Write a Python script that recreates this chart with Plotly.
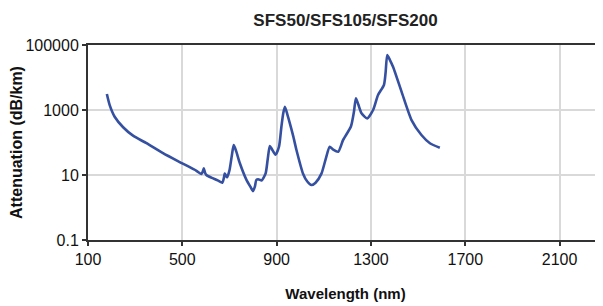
import plotly.graph_objects as go

wavelength_nm = [180, 192, 213, 249, 291, 348, 418, 489, 560, 581, 587, 591, 596, 602, 623, 650, 670, 676, 680, 685, 690,
                 700, 710, 718, 728, 744, 772, 790, 800, 808, 814, 825, 836, 853, 862, 871, 880, 895, 910,
                 920, 928, 935, 945, 956, 970, 984, 1012, 1030, 1048, 1065, 1090, 1110, 1125, 1140, 1161, 1182, 1215, 1228,
                 1236, 1246, 1260, 1284, 1309, 1330, 1355, 1362, 1369, 1380, 1394, 1430, 1472, 1514, 1550, 1592]
attenuation_db_km = [3100, 1410, 620, 295, 162, 95, 47, 25, 13.5, 10.7, 13, 16, 12, 10, 8.3, 6.8, 5.8, 8, 11, 9.5, 8.5,
                     14, 40, 83, 55, 23, 7.1, 4.2, 3.2, 4.5, 7.1, 7.3, 6.8, 11, 30, 78, 62, 42, 74,
                     300, 800, 1260, 750, 390, 160, 59, 11, 6.3, 4.9, 5.8, 11, 35, 74, 60, 52, 120, 310, 900,
                     2300, 1500, 790, 550, 1000, 2900, 5900, 14000, 49000, 35000, 21000, 3600, 490, 170, 95, 69]

x_tick_vals = [100, 500, 900, 1300, 1700, 2100]
y_tick_vals = [0.1, 10, 1000, 100000]
y_tick_text = ["0.1", "10", "1000", "100000"]

font_family = "Liberation Sans, Arial, sans-serif"

fig = go.Figure()
fig.add_trace(go.Scatter(
    x=wavelength_nm, y=attenuation_db_km, mode="lines",
    line=dict(color="#3550a0", width=2.6, shape="spline", smoothing=0.6),
    hoverinfo="x+y", showlegend=False,
))

# the page body adds an 8px offset, so the figure is 595x298 with margins shifted accordingly
fig.update_layout(
    width=595, height=298,
    margin=dict(l=80, r=0, t=37, b=66, autoexpand=False),
    paper_bgcolor="white", plot_bgcolor="white",
    title=dict(text="<b>SFS50/SFS105/SFS200</b>", xref="paper", x=0.5, xanchor="center",
               yref="container", y=0.96, yanchor="middle",
               font=dict(family=font_family, size=17, color="#222")),
    font=dict(family=font_family, color="#111"),
)

fig.update_xaxes(
    range=[100, 2284], tickvals=x_tick_vals, ticktext=[str(v) for v in x_tick_vals],
    showgrid=True, gridcolor="#d9d9d9", gridwidth=1.5,
    showline=True, linecolor="#333", linewidth=2, mirror=True,
    ticks="outside", ticklen=4, tickcolor="#333", tickwidth=1.5,
    tickfont=dict(size=16, color="#111"),
    title=dict(text="<b>Wavelength (nm)</b>", font=dict(size=15, color="#111"), standoff=21),
    zeroline=False, automargin=False,
)
fig.update_yaxes(
    type="log", range=[-1, 5], tickvals=y_tick_vals, ticktext=y_tick_text,
    showgrid=True, gridcolor="#d9d9d9", gridwidth=1.5,
    showline=True, linecolor="#333", linewidth=2,
    ticks="outside", ticklen=4, tickcolor="#333", tickwidth=1.5,
    tickfont=dict(size=16, color="#111"),
    title=dict(text="<b>Attenuation (dB/km)</b>", font=dict(size=16, color="#111"), standoff=3),
    zeroline=False, automargin=False,
)

fig.write_html("out.html")
